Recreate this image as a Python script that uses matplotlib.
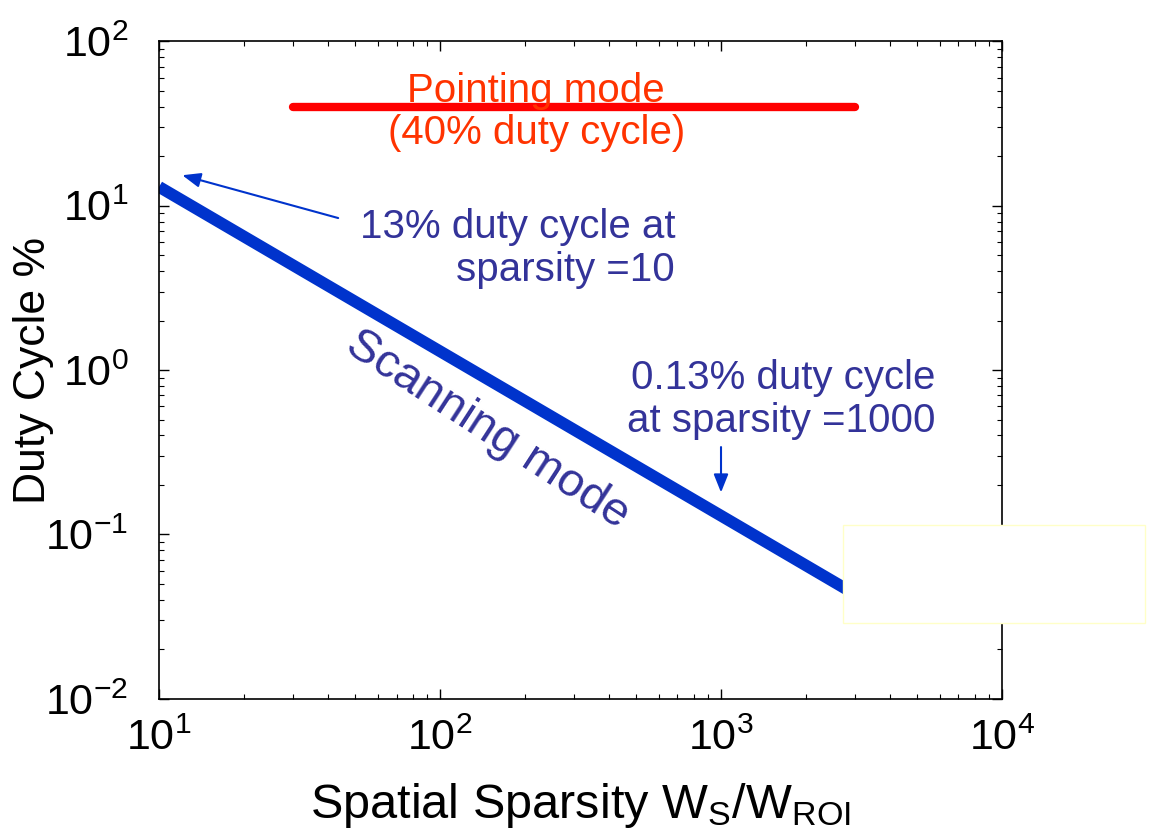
import matplotlib
matplotlib.use("Agg")
import matplotlib.pyplot as plt
from matplotlib.patches import Rectangle

plt.rcParams['font.family'] = ['Liberation Sans', 'DejaVu Sans']
plt.rcParams['mathtext.fontset'] = 'custom'
plt.rcParams['mathtext.rm'] = 'Liberation Sans'
plt.rcParams['mathtext.it'] = 'Liberation Sans:italic'

# scanning mode: duty cycle drops as 1/sparsity
scan_sparsity = [10, 1000, 3000]
scan_duty = [13, 0.13, 0.0433]

# pointing mode: constant 40 %
point_sparsity = [30, 3000]
point_duty = [40, 40]

# annotation arrows (tip, tail)
arrow10_tip = (12.1, 15.3)
arrow10_tail = (43.4, 8.4)
arrow1000_tip = (1000, 0.18)
arrow1000_tail = (1000, 0.34)

blue = '#0033cc'
txt_blue = '#333399'
red = '#ff0000'
txt_red = '#ff3300'

fig = plt.figure(figsize=(11.5, 8.4), dpi=100)
ax = fig.add_axes([0.1383, 0.168, 0.733, 0.783])
ax.set_xscale('log')
ax.set_yscale('log')
ax.set_xlim(10, 1e4)
ax.set_ylim(1e-2, 1e2)

ax.plot(scan_sparsity, scan_duty, color=blue, lw=8.5, solid_capstyle='butt')
ax.plot(point_sparsity, point_duty, color=red, lw=6, solid_capstyle='round')

ax.tick_params(which='both', direction='in', top=True, right=True)
ax.tick_params(which='major', length=7, width=1, labelsize=31)
ax.tick_params(which='minor', length=3.5, width=0.8)
ax.tick_params(axis='x', which='major', pad=14)
ax.tick_params(axis='y', which='major', pad=22)
for s in ax.spines.values():
    s.set_linewidth(1.2)

ax.set_xlabel(r'Spatial Sparsity W$_\mathregular{S}$/W$_\mathregular{ROI}$',
              fontsize=35)
ax.set_ylabel('Duty Cycle %', fontsize=32)
ax.xaxis.set_label_coords(0.5, -0.125)
ax.yaxis.set_label_coords(-0.125, 0.5)

ax.text(220, 37, 'Pointing mode\n(40% duty cycle)', color=txt_red,
        fontsize=29, ha='center', va='center', linespacing=1.15)

ax.text(686, 5.5, '13% duty cycle at\nsparsity =10', color=txt_blue,
        fontsize=29, ha='right', va='center', multialignment='right',
        linespacing=1.15)
ax.annotate('', xy=arrow10_tip, xytext=arrow10_tail,
            arrowprops=dict(arrowstyle='-|>,head_length=0.5,head_width=0.2',
                            color=blue, lw=1.5, shrinkA=0, shrinkB=0,
                            mutation_scale=22))

ax.text(5780, 0.66, '0.13% duty cycle\nat sparsity =1000', color=txt_blue,
        fontsize=29, ha='right', va='center', multialignment='right',
        linespacing=1.15)
ax.annotate('', xy=arrow1000_tip, xytext=arrow1000_tail,
            arrowprops=dict(arrowstyle='-|>,head_length=0.5,head_width=0.2',
                            color=blue, lw=1.5, shrinkA=0, shrinkB=0,
                            mutation_scale=22))

ax.text(148, 0.43, 'Scanning mode', color=txt_blue, fontsize=34,
        rotation=-33, ha='center', va='center', rotation_mode='anchor')

# blank box over the lower right edge
fig.add_artist(Rectangle((0.733, 0.258), 0.263, 0.117, transform=fig.transFigure,
                         facecolor='white', edgecolor='#ffffc8', lw=1, zorder=10))

fig.savefig('out.png', dpi=100)
